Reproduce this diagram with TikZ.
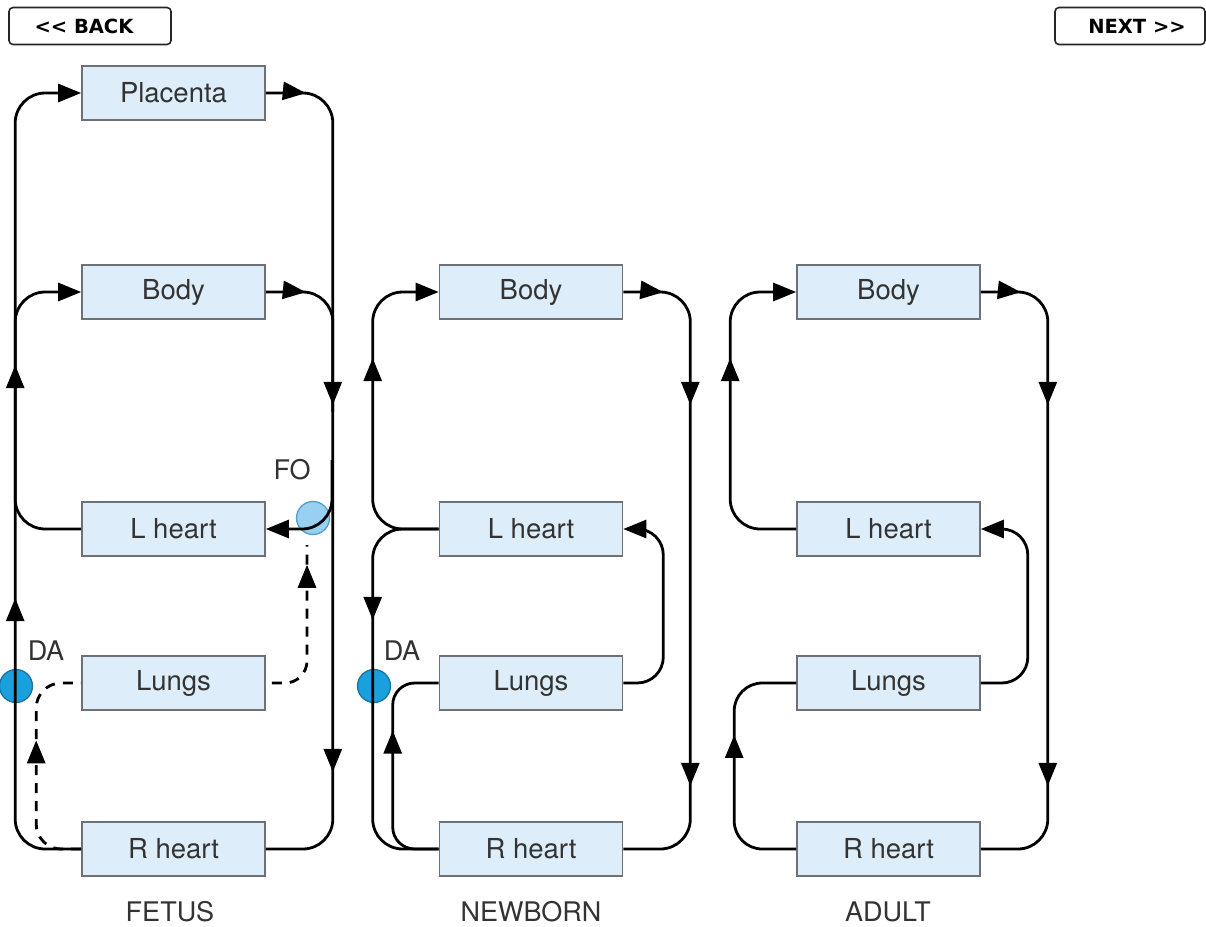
\documentclass[tikz,border=0pt]{standalone}
\usepackage{fontspec}
\setmainfont{TeX Gyre Heros}
\newfontfamily\btnfont{DejaVu Sans}
\usetikzlibrary{arrows.meta,decorations.markings}

\definecolor{boxfill}{HTML}{DDEEFA}
\definecolor{boxline}{HTML}{6E7276}
\definecolor{txt}{HTML}{333333}
\definecolor{fofill}{HTML}{8DCBF0}
\definecolor{foline}{HTML}{4A9BD0}
\definecolor{dafill}{HTML}{1AA0DC}
\definecolor{daline}{HTML}{17709E}

\begin{document}
\begin{tikzpicture}[x=1pt,y=-1pt,
  >={Triangle[length=23pt,width=18pt]},
  organ/.style={draw=boxline, fill=boxfill, line width=1.6pt,
    minimum width=183pt, minimum height=54pt, inner sep=0pt,
    text=txt, font=\fontsize{27.5}{27.5}\selectfont},
  lbl/.style={text=txt, inner sep=0pt, font=\fontsize{27}{27}\selectfont},
  shunt/.style={circle, inner sep=0pt, minimum size=33pt, line width=1.2pt},
  flow/.style={line width=2.8pt, rounded corners=30pt},
  bypass/.style={dash pattern=on 10pt off 8pt},
  arrowat/.style={postaction={decorate, decoration={markings,
    mark=at position #1 with {\arrow{>}}}}},
  button/.style={draw=black!85, fill=white, line width=1.6pt, rounded corners=4pt,
    minimum height=37pt, inner sep=0pt},
  btntext/.style={inner sep=0pt, font=\btnfont\bfseries\fontsize{19.5}{19.5}\selectfont}
]
\useasboundingbox (0,0) rectangle (1206,926);

% navigation buttons
\node[button, minimum width=162pt] (back) at (90,26) {};
\node[btntext] (backt) at (84,26) {<\kern0pt< BACK};
\node[button, minimum width=150pt] (next) at (1130,26) {};
\node[btntext] (nextt) at (1137,26) {NEXT >\kern0pt>};

% shunts (drawn first so the vessels pass over them)
\node[shunt, fill=fofill, draw=foline, fill opacity=0.9] (fFO) at (313,518) {};
\node[shunt, fill=dafill, draw=daline] (fDA) at (16,686) {};
\node[shunt, fill=dafill, draw=daline] (nDA) at (374,686) {};

% ---------------- FETUS ----------------
\node[organ] (fPla)  at (173.5,93)  {Placenta};
\node[organ] (fBody) at (173.5,292) {Body};
\node[organ] (fL)    at (173.5,529) {L heart};
\node[organ] (fLu)   at (173.5,683) {Lungs};
\node[organ] (fR)    at (173.5,849) {R heart};

\coordinate (fFOrail) at (332,460);
\coordinate (fFOin)   at (307,545);

\draw[flow,->,arrowat=304pt,arrowat=537pt] (fR.west) -- ++(-66,0) |- (fPla.west);
\draw[flow,->] (fL.west) -- ++(-66,0) |- (fBody.west);
\draw[flow,arrowat=40pt,arrowat=366pt,arrowat=733pt] (fPla.east) -- ++(67,0) |- (fR.east);
\draw[flow,arrowat=40pt] (fBody.east) -- ++(67,0) -- ++(0,120);
\draw[flow,->] (fFOrail) |- (fL.east);
\draw[flow,bypass,dash phase=12pt,rounded corners=22pt,arrowat=150pt] (fLu.east) -| (fFOin);
\draw[flow,bypass,rounded corners=25pt,arrowat=143pt] (fR.west) -- ++(-45,0) |- (fLu.west);

\node[lbl] (fFOl) at (292,470) {FO};
\node[lbl] (fDAl) at (46,651) {DA};
\node[lbl] (fT)   at (170,912) {FETUS};

% ---------------- NEWBORN ----------------
\node[organ] (nBody) at (531,292) {Body};
\node[organ] (nL)    at (531,529) {L heart};
\node[organ] (nLu)   at (531,683) {Lungs};
\node[organ] (nR)    at (531,849) {R heart};

\draw[flow,->,arrowat=224pt] (nL.west) -- ++(-66,0) |- (nBody.west);
\draw[flow,arrowat=144pt] (nL.west) -- ++(-66,0) |- (nR.west);
\draw[flow,rounded corners=22pt,arrowat=155pt] (nR.west) -- ++(-46,0) |- (nLu.west);
\draw[flow,->,rounded corners=26pt] (nLu.east) -- ++(40,0) |- (nL.east);
\draw[flow,arrowat=40pt,arrowat=167pt,arrowat=548pt] (nBody.east) -- ++(67,0) |- (nR.east);

\node[lbl] (nDAl) at (402,651) {DA};
\node[lbl] (nT)   at (531,912) {NEWBORN};

% ---------------- ADULT ----------------
\node[organ] (aBody) at (888.5,292) {Body};
\node[organ] (aL)    at (888.5,529) {L heart};
\node[organ] (aLu)   at (888.5,683) {Lungs};
\node[organ] (aR)    at (888.5,849) {R heart};

\draw[flow,->,arrowat=224pt] (aL.west) -- ++(-66,0) |- (aBody.west);
\draw[flow,rounded corners=28pt,arrowat=164pt] (aR.west) -- ++(-62,0) |- (aLu.west);
\draw[flow,->,rounded corners=26pt] (aLu.east) -- ++(47,0) |- (aL.east);
\draw[flow,arrowat=40pt,arrowat=167pt,arrowat=548pt] (aBody.east) -- ++(67,0) |- (aR.east);

\node[lbl] (aT) at (888,912) {ADULT};
\end{tikzpicture}
\end{document}
